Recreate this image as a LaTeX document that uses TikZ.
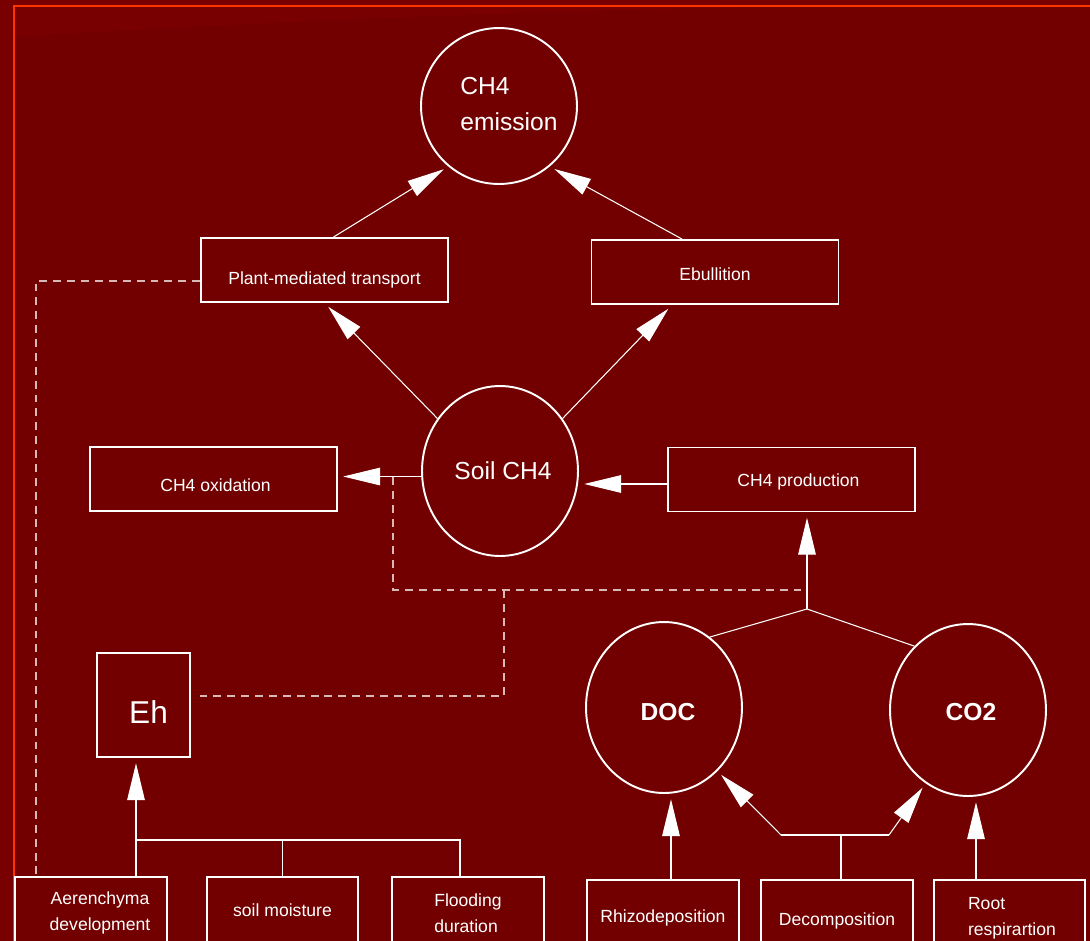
\documentclass[tikz,border=0pt]{standalone}
\usepackage{fontspec}
\setmainfont{Liberation Sans}
\usetikzlibrary{arrows.meta,shapes.geometric}
\definecolor{bgred}{HTML}{720000}
\definecolor{bgedge}{HTML}{790000}
\definecolor{framered}{HTML}{FF3300}
\definecolor{dashcol}{HTML}{D9B8B8}
\newcommand{\lowered}[2]{\raisebox{-#1}[\height][\depth]{#2}}

\begin{document}
\begin{tikzpicture}[x=0.02cm,y=-0.02cm,
    every node/.style={text=white,font=\fontsize{10}{15}\selectfont},
    box/.style={draw=white,line width=1.1pt,minimum width=4.94cm,minimum height=1.28cm,inner sep=0pt},
    lowbox/.style={box,minimum width=3.04cm,minimum height=1.44cm,align=center},
    highbox/.style={lowbox,minimum height=1.52cm},
    blob/.style={draw=white,line width=1.1pt,ellipse,inner sep=0pt,minimum width=3.12cm},
    bigtext/.style={font=\fontsize{14}{20.4}\selectfont},
    boldtext/.style={font=\fontsize{14}{20}\selectfont\bfseries},
    link/.style={draw=white,line width=0.6pt},
    arr/.style={link,-{Triangle[length=21pt,width=10pt]},shorten >=3pt},
    dashlink/.style={draw=dashcol,line width=0.6pt,dash pattern=on 4.5pt off 3.4pt}]
    \useasboundingbox (0,0) rectangle (1090,941);
    \clip (0,0) rectangle (1090,941);
    \fill[bgedge] (0,0) rectangle (1090,941);
    \fill[bgred] (14,6) rectangle (1090,941);
    \fill[bgedge] (14,6) -- (800,6) .. controls (500,12) and (250,22) .. (14,37) -- cycle;
    \draw[framered,line width=1.4pt] (14,6) rectangle (1110,960);

    \node[blob,minimum height=3.12cm,label={[bigtext,align=left,xshift=0.2cm,yshift=0.04cm]center:CH4\\emission}] (emis) at (499,106) {};
    \node[box] (plant) at (324.5,270) {\lowered{0.2cm}{Plant-mediated transport}};
    \node[box] (ebul) at (715,272) {\lowered{0.04cm}{Ebullition}};
    \node[blob,bigtext,minimum height=3.4cm] (soil) at (500,471) {\hspace{0.12cm}Soil CH4};
    \node[box] (ox) at (213.5,479) {\hspace{0.08cm}\lowered{0.12cm}{CH4 oxidation}};
    \node[box] (prod) at (791.5,479.5) {\hspace{0.28cm}\lowered{0.04cm}{CH4 production}};
    \node[blob,boldtext,minimum height=3.42cm] (doc) at (664,707.5) {\hspace{0.16cm}\lowered{0.09cm}{DOC}};
    \node[blob,boldtext,minimum height=3.44cm] (co2) at (968,710) {\hspace{0.12cm}\lowered{0.04cm}{CO2}};
    \node[box,minimum width=1.86cm,minimum height=2.08cm,font=\fontsize{18}{20}\selectfont] (eh) at (143.5,705) {\hspace{0.2cm}\lowered{0.14cm}{Eh}};
    \node[lowbox] (aer) at (91,913) {\hspace*{0.36cm}Aerenchyma\\\hspace*{0.36cm}development};
    \node[lowbox,minimum width=3.02cm] (moist) at (282.5,913) {\lowered{-0.06cm}{soil moisture}};
    \node[lowbox,align=left] (flood) at (468,913) {Flooding\\duration};
    \node[highbox] (rhizo) at (663,918) {Rhizodeposition};
    \node[highbox] (dec) at (837,918) {\lowered{0.06cm}{Decomposition}};
    \node[highbox,minimum width=3.02cm,align=left] (root) at (1009.5,918) {\hspace{0.1cm}Root\\\hspace{0.1cm}respirartion};

    \coordinate (ox1) at (393,477);
    \coordinate (dj) at (807,590);
    \coordinate (dm) at (504,590);
    \coordinate (jn) at (807,609);
    \coordinate (ehj) at (136,840);
    \coordinate (kl) at (781,835);
    \coordinate (kr) at (889,835);

    \draw[arr] ([xshift=0.18cm]plant.north) -- (emis.230);
    \draw[arr] ([xshift=-0.66cm]ebul.north) -- (emis.310);
    \draw[arr] (soil.140) -- (plant.south);
    \draw[arr] (soil.40) -- ([xshift=-0.86cm]ebul.south);
    \draw[arr] (soil.184) -- (soil.184 -| ox.east);
    \draw[arr] ([yshift=-0.09cm]prod.west) -- ([yshift=-0.09cm]prod.west -| soil.east);
    \draw[link] (doc.57) -- (jn) -- (co2.130);
    \draw[arr] (jn) -- (jn |- prod.south);

    \draw[dashlink] (ox1) |- (dj);
    \draw[dashlink,shorten >=5pt] (dm) |- ([yshift=0.18cm]eh.east);
    \draw[dashlink] ([yshift=-0.22cm]plant.west) -| ([xshift=-1.1cm]aer.north);

    \draw[arr] (ehj) -- (ehj |- eh.south);
    \draw[link] (ehj |- aer.north) -- (ehj) -| ([xshift=-0.16cm]flood.north);
    \draw[link] (moist.north) -- (moist.north |- ehj);

    \draw[link] ([xshift=0.08cm]dec.north) -- ([xshift=0.08cm]dec.north |- kl);
    \draw[link] (kl) -- (kr);
    \draw[arr] (kl) -- (doc.-50);
    \draw[arr] (kr) -- (co2.240);
    \draw[arr] ([xshift=0.16cm]rhizo.north) -- ([xshift=0.16cm]rhizo.north |- doc.south);
    \draw[arr] ([xshift=-0.67cm]root.north) -- ([xshift=-0.67cm]root.north |- co2.south);
\end{tikzpicture}
\end{document}
